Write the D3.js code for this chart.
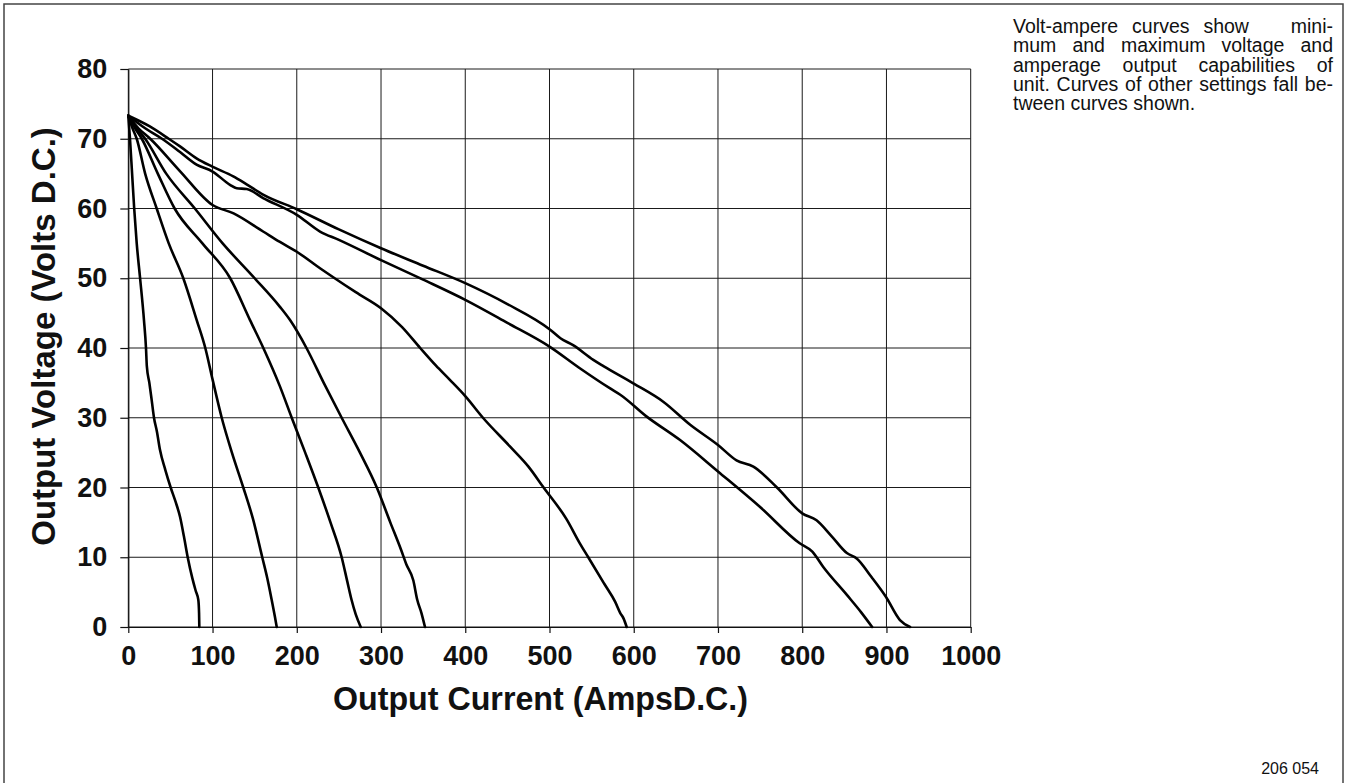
<!DOCTYPE html>
<html>
<head>
<meta charset="utf-8">
<script src="https://cdn.jsdelivr.net/npm/d3@7"></script>
<style>
    body { margin: 0; background: #fff; }
    svg { display: block; }
</style>
</head>
<body>
<svg id="chart" width="1346" height="783"></svg>
<script>
/*
    Volt-ampere curves, 206 054.
*/

var xTicks = [0, 100, 200, 300, 400, 500, 600, 700, 800, 900, 1000];
var yTicks = [0, 10, 20, 30, 40, 50, 60, 70, 80];

var xTitle = "Output Current (AmpsD.C.)";
var yTitle = "Output Voltage (Volts D.C.)";
var figNumber = "206 054";

// runs of spaces are kept: the first line has a wide gap before "mini-"
var noteLines = [
    "Volt-ampere curves show   mini-",
    "mum and maximum voltage and",
    "amperage output capabilities of",
    "unit. Curves of other settings fall be-",
    "tween curves shown."
];

// [amps, volts], one list per curve
var curve85 = [[0, 73.3], [2, 70], [4.5, 65], [7, 60], [10, 55], [14, 50], [18.6, 44], [21, 40], [22, 37.4],
    [25, 35], [27.8, 32.5], [30.5, 30], [34, 28], [37.6, 25.4], [44, 22.5], [50.3, 20], [56, 18], [61.4, 15.8],
    [66, 13], [70.5, 10], [76, 7], [80, 5.2], [83.1, 3.9], [84, 2], [84.3, 0]];

var curve176 = [[0, 73.3], [5, 71.5], [10, 70], [20, 65], [33.7, 60], [48, 55], [65.3, 50], [81.2, 44], [91.4, 40],
    [100, 35.5], [110.9, 30], [123, 25], [136.5, 20], [148, 15.5], [159, 10], [165, 7], [170.2, 3.9], [174, 1.5],
    [176.2, 0]];

var curve276 = [[0, 73.3], [8, 71.5], [16, 70], [35, 65], [55, 60], [88, 55], [121, 50], [144.5, 44], [160.3, 40],
    [180, 34.5], [194, 30], [210, 25], [225.5, 20], [240, 15], [253.3, 10], [260, 6.5], [265, 3.9], [270, 1.8],
    [275.9, 0]];

var curve352 = [[0, 73.3], [10, 71.5], [20, 70], [45, 65], [79, 60], [112, 55], [150, 50], [180, 45.9], [192, 44],
    [211.5, 40], [232, 35], [253.3, 30], [275, 25], [295, 20], [311, 15], [324, 11], [330, 9], [338.3, 6.7],
    [343, 3.9], [348, 2], [352.2, 0]];

var curve592 = [[0, 73.3], [12, 71.5], [26, 70], [61, 65.4], [100, 60.5], [125, 59.3], [160, 56.7], [180, 55.2],
    [200, 53.8], [228, 51.4], [245, 50], [270, 48], [300, 45.7], [325, 43], [346.5, 40], [365, 37.5], [382, 35.4],
    [400, 33.1], [421, 30], [453, 25.9], [475, 23], [493, 20], [520, 15.5], [536, 12], [546, 10], [565, 6.2],
    [578, 3.6], [584, 2], [588, 1.2], [591.6, 0]];

var curve883 = [[0, 73.3], [20, 71.5], [40, 70], [61.4, 68.1], [81, 66.3], [100, 65.3], [120.7, 63.4], [128.7, 62.9],
    [140.5, 62.8], [160, 61.5], [200, 59.1], [227.6, 56.7], [250, 55.5], [300, 52.6], [350, 49.8], [400, 46.9],
    [450, 43.6], [500, 40.2], [536, 37.1], [572, 34.2], [584, 33.3], [615, 30.2], [655, 26.8], [700, 22.3],
    [750, 17.2], [797, 12], [812, 10.8], [825, 8.6], [853, 4.6], [870, 2.1], [883, 0]];

var curve928 = [[0, 73.3], [25, 71.8], [48, 70], [61.4, 68.9], [81, 67.2], [99.7, 66], [124.6, 64.6], [140, 63.5],
    [160, 62], [200, 59.9], [250, 57], [300, 54.3], [350, 51.8], [400, 49.3], [450, 46.3], [500, 42.7],
    [513, 41.4], [528, 40.4], [552, 38.3], [564, 37.4], [600, 34.9], [635, 32.3], [667, 29], [700, 26.1],
    [722, 23.9], [742, 23], [770, 20], [800, 16.3], [817, 15.3], [835, 13], [853, 10.6], [865, 9.8], [882, 7.2],
    [899.5, 4.3], [916, 1], [928, 0]];

var curves = [curve85, curve176, curve276, curve352, curve592, curve883, curve928];

var FONT = "'Liberation Sans', Arial, Helvetica, sans-serif";

var svg = d3.select("#chart");

var x = d3.scaleLinear().domain([0, 1000]).range([128.3, 970.7]);
var y = d3.scaleLinear().domain([0, 80]).range([627, 69]);

// page frame (bottom edge runs off the page)
svg.append("rect")
    .attr("x", 4).attr("y", 4)
    .attr("width", 1339).attr("height", 800)
    .attr("fill", "none")
    .attr("stroke", "#444")
    .attr("stroke-width", 1.5);

// grid
var grid = svg.append("g").attr("stroke", "#1a1a1a").attr("stroke-width", 1);
grid.selectAll("line.h").data(yTicks).enter().append("line")
    .attr("class", "h")
    .attr("x1", x(0)).attr("x2", x(1000))
    .attr("y1", function(d) { return y(d); })
    .attr("y2", function(d) { return y(d); });
grid.selectAll("line.v").data(xTicks).enter().append("line")
    .attr("class", "v")
    .attr("y1", y(0)).attr("y2", y(80))
    .attr("x1", function(d) { return x(d); })
    .attr("x2", function(d) { return x(d); });

// axes
var yAxis = d3.axisLeft(y).tickValues(yTicks).tickFormat(d3.format("d"))
    .tickSize(8).tickSizeOuter(0).tickPadding(13);
var xAxis = d3.axisBottom(x).tickValues(xTicks).tickFormat(d3.format("d"))
    .tickSize(6).tickSizeOuter(0).tickPadding(13);

var gy = svg.append("g").attr("transform", "translate(" + x(0) + ",0)").call(yAxis);
var gx = svg.append("g").attr("transform", "translate(0," + y(0) + ")").call(xAxis);

[gy, gx].forEach(function(g) {
    g.selectAll("line, path").attr("stroke", "#111").attr("stroke-width", 1.2);
    g.selectAll("text")
        .attr("fill", "#111")
        .style("font-family", FONT)
        .style("font-weight", "bold")
        .style("font-size", "27px");
});

// titles
svg.append("text")
    .attr("x", 540.5).attr("y", 710)
    .attr("text-anchor", "middle")
    .attr("textLength", 415)
    .attr("lengthAdjust", "spacingAndGlyphs")
    .style("font-family", FONT).style("font-weight", "bold").style("font-size", "33px")
    .attr("fill", "#111")
    .text(xTitle);

svg.append("text")
    .attr("transform", "translate(55,336.5) rotate(-90)")
    .attr("text-anchor", "middle")
    .style("font-family", FONT).style("font-weight", "bold").style("font-size", "33px")
    .attr("fill", "#111")
    .text(yTitle);

// curves
var line = d3.line()
    .x(function(d) { return x(d[0]); })
    .y(function(d) { return y(d[1]); })
    .curve(d3.curveMonotoneX);

svg.append("g").selectAll("path.curve").data(curves).enter().append("path")
    .attr("class", "curve")
    .attr("d", line)
    .attr("fill", "none")
    .attr("stroke", "#000")
    .attr("stroke-width", 2.6)
    .attr("stroke-linejoin", "round")
    .attr("stroke-linecap", "round");

// note, justified by hand: spare width goes to every space, runs count more
var note = svg.append("g").attr("fill", "#111");
var noteX = 1013, noteW = 320;
noteLines.forEach(function(txt, i) {
    var parts = txt.split(/( +)/);
    var words = parts.filter(function(p, k) { return k % 2 === 0; });
    var spaces = parts.filter(function(p, k) { return k % 2 === 1; }).map(function(s) { return s.length; });
    var yy = 33 + i * 19.3;
    var nodes = words.map(function(w) {
        return note.append("text")
            .attr("y", yy)
            .attr("font-family", FONT)
            .attr("font-size", 19.5)
            .text(w);
    });
    var widths = nodes.map(function(t) { return t.node().getComputedTextLength(); });
    var last = i === noteLines.length - 1;
    var unit = last ? 5.4 : (noteW - d3.sum(widths)) / d3.sum(spaces);
    var cx = noteX;
    nodes.forEach(function(t, j) {
        t.attr("x", cx);
        cx += widths[j] + (j < spaces.length ? spaces[j] * unit : 0);
    });
});

svg.append("text")
    .attr("x", 1319).attr("y", 774)
    .attr("text-anchor", "end")
    .style("font-family", FONT).style("font-size", "16px")
    .attr("fill", "#111")
    .text(figNumber);
</script>
</body>
</html>
